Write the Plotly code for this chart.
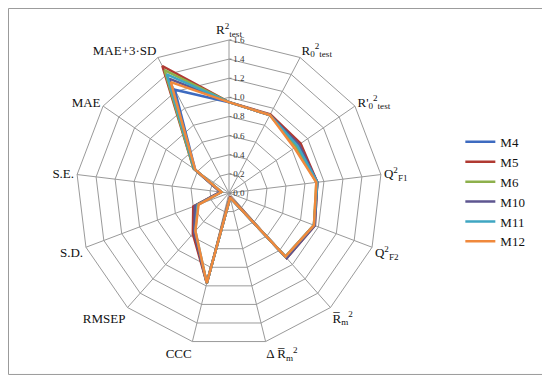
import plotly.graph_objects as go

categories = [
    "R<sup>2</sup><sub>test</sub>",
    "R<sub>0</sub><sup>2</sup><sub>test</sub>",
    "R'<sub>0</sub><sup>2</sup><sub>test</sub>",
    "Q<sup>2</sup><sub>F1</sub>",
    "Q<sup>2</sup><sub>F2</sub>",
    "R\u0305<sub>m</sub><sup>2</sup>",
    "\u0394 R\u0305<sub>m</sub><sup>2</sup>",
    "CCC",
    "RMSEP",
    "S.D.",
    "S.E.",
    "MAE",
    "MAE+3\u00b7SD",
]

models = ["M4", "M5", "M6", "M10", "M11", "M12"]
M4 = [0.95, 0.92, 0.88, 0.93, 0.95, 0.90, 0.05, 0.97, 0.55, 0.38, 0.08, 0.43, 1.22]
M5 = [0.95, 0.93, 0.91, 0.93, 0.96, 0.91, 0.04, 0.97, 0.57, 0.40, 0.09, 0.45, 1.50]
M6 = [0.95, 0.92, 0.85, 0.92, 0.95, 0.89, 0.05, 0.97, 0.54, 0.37, 0.08, 0.45, 1.45]
M10 = [0.95, 0.92, 0.89, 0.93, 0.96, 0.91, 0.05, 0.97, 0.55, 0.38, 0.09, 0.44, 1.35]
M11 = [0.95, 0.92, 0.87, 0.93, 0.95, 0.89, 0.05, 0.97, 0.53, 0.35, 0.08, 0.44, 1.40]
M12 = [0.95, 0.92, 0.83, 0.92, 0.95, 0.89, 0.05, 0.97, 0.53, 0.34, 0.08, 0.43, 1.31]
series = [M4, M5, M6, M10, M11, M12]
colors = ["#3E6BC0", "#B03A32", "#8DB04C", "#5E5690", "#3FA6C2", "#F0893C"]

fig = go.Figure()
for name, vals, col in zip(models, series, colors):
    fig.add_trace(go.Scatterpolar(
        r=vals + vals[:1],
        theta=categories + categories[:1],
        mode="lines",
        name=name,
        line=dict(color=col, width=2.5),
    ))

FONT = '"Liberation Serif", serif'
fig.update_layout(
    width=550, height=377,
    margin=dict(l=68, r=176, t=32, b=39),
    paper_bgcolor="white",
    plot_bgcolor="white",
    font=dict(family=FONT, size=13, color="#111"),
    polar=dict(
        bgcolor="white",
        gridshape="linear",
        angularaxis=dict(
            rotation=90, direction="clockwise",
            gridcolor="#9a9a9a", linecolor="#9a9a9a", linewidth=1,
            showline=True, ticks="",
            tickfont=dict(family=FONT, size=13, color="#111"),
        ),
        radialaxis=dict(
            range=[0, 1.6], dtick=0.2, tickformat=".1f",
            angle=90, tickangle=90, side="clockwise",
            showline=False, gridcolor="#9a9a9a",
            ticks="outside", ticklen=2, tickcolor="#777",
            tickfont=dict(family=FONT, size=9, color="#333"),
        ),
    ),
    legend=dict(
        x=1.256, y=0.716, xanchor="left", yanchor="top",
        font=dict(family=FONT, size=13, color="#111"),
        tracegroupgap=0, itemwidth=30,
        bgcolor="rgba(0,0,0,0)",
    ),
    showlegend=True,
    shapes=[dict(
        type="rect", xref="paper", yref="paper",
        x0=-0.2206, x1=1.541, y0=-0.093, y1=1.103,
        line=dict(color="#9a9a9a", width=1),
    )],
)

fig.write_html("out.html")
